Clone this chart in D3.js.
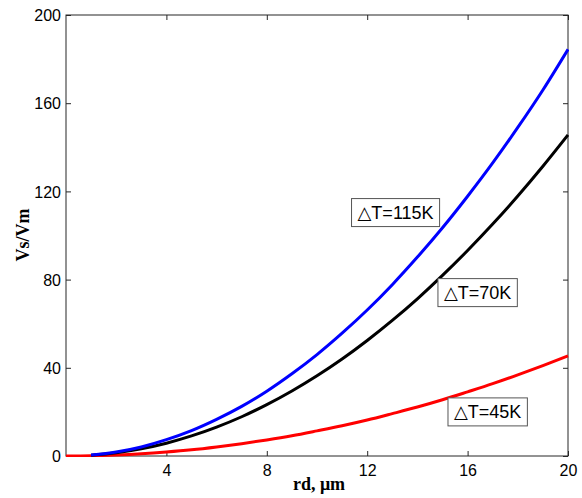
<!DOCTYPE html>
<html><head><meta charset="utf-8">
<script src="https://cdn.jsdelivr.net/npm/d3@7"></script>
<style>body{margin:0;background:#fff}svg{display:block}</style>
</head><body><svg id="c" width="582" height="498"></svg>
<script>
const xTicks = [4, 8, 12, 16, 20];
const yTicks = [0, 40, 80, 120, 160, 200];
const xsBlack = [1,2,3,4,5,6,7,8,9,10,11,12,13,14,15,16,17,18,19,20];
const blueVals = [0.46,1.8,4.1,7.4,11.5,16.6,22.5,29.4,37.3,46,55.7,66.2,77.7,90.2,103.5,117.8,132.9,149,166,184.4];
const blackVals = [0.36,1.5,3.3,5.8,9.1,13.1,17.8,23.3,29.5,36.4,44,52.4,61.5,71.3,81.9,93.2,105.2,117.9,131.4,145.6];
const xsRed = [0,1,2,3,4,5,6,7,8,9,10,11,12,13,14,15,16,17,18,19,20];
const redVals = [0,0.11,0.45,1.0,1.8,2.8,4.1,5.6,7.3,9.2,11.4,13.7,16.3,19.2,22.2,25.5,29.1,32.8,36.8,41,45.4];
const labels = [
  {text:"\u25B3T=115K", x:13.13, y:110.4},
  {text:"\u25B3T=70K", x:16.4, y:74.1},
  {text:"\u25B3T=45K", x:16.8, y:20}
];

const svg = d3.select("#c");
const L=66, R=568, T=15, B=456;
const x = d3.scaleLinear().domain([0,20]).range([L,R]);
const y = d3.scaleLinear().domain([0,200]).range([B,T]);
const axCol = "#262626";

svg.append("rect").attr("x",L).attr("y",T).attr("width",R-L).attr("height",B-T)
  .attr("fill","none").attr("stroke",axCol).attr("stroke-width",1);

const xa = svg.append("g").attr("transform",`translate(0,${B})`)
  .call(d3.axisBottom(x).tickValues(xTicks).tickSize(-5).tickPadding(9).tickFormat(d3.format("d")));
const xt = svg.append("g").attr("transform",`translate(0,${T})`)
  .call(d3.axisTop(x).tickValues(xTicks).tickSize(-5).tickFormat(""));
const ya = svg.append("g").attr("transform",`translate(${L},0)`)
  .call(d3.axisLeft(y).tickValues(yTicks).tickSize(-5).tickPadding(5).tickFormat(d3.format("d")));
const yr = svg.append("g").attr("transform",`translate(${R},0)`)
  .call(d3.axisRight(y).tickValues(yTicks).tickSize(-5).tickFormat(""));
[xa,xt,ya,yr].forEach(g=>{
  g.select(".domain").remove();
  g.selectAll("line").attr("stroke",axCol);
  g.selectAll("text").attr("fill","#000").style("font-family","Arial, 'Liberation Sans', sans-serif").style("font-size","16px");
});
ya.selectAll("text").attr("dy","0.36em");

const line = d3.line().x(d=>x(d[0])).y(d=>y(d[1])).curve(d3.curveMonotoneX);
const series = [
  {xs:xsRed, v:redVals, c:"#ff0000"},
  {xs:xsBlack, v:blackVals, c:"#000000"},
  {xs:xsBlack, v:blueVals, c:"#0000ff"}
];
svg.append("clipPath").attr("id","cp").append("rect")
  .attr("x",L).attr("y",T-2).attr("width",R-L+1).attr("height",B-T+3);
series.forEach(s=>{
  svg.append("path").attr("d", line(s.xs.map((xx,i)=>[xx,s.v[i]])))
    .attr("fill","none").attr("stroke",s.c).attr("stroke-width",3).attr("clip-path","url(#cp)");
});

labels.forEach(l=>{
  const g = svg.append("g");
  const t = g.append("text").attr("x",x(l.x)).attr("y",y(l.y)).attr("dy","0.36em")
    .attr("text-anchor","middle").attr("fill","#000")
    .style("font-family","Arial, 'Liberation Sans', 'DejaVu Sans', sans-serif").style("font-size","18px")
    .text(l.text);
  const bb = t.node().getBBox();
  g.insert("rect","text").attr("x",bb.x-6).attr("y",y(l.y)-14).attr("width",bb.width+12).attr("height",28)
    .attr("fill","#fff").attr("stroke","#555").attr("stroke-width",1);
});

svg.append("text").attr("x",(L+R)/2+2).attr("y",490).attr("text-anchor","middle")
  .style("font-family","'Times New Roman', 'Liberation Serif', serif").style("font-weight","bold").style("font-size","18px")
  .text("rd, \u03BCm");
svg.append("text").attr("transform","translate(29,235) rotate(-90)").attr("text-anchor","middle")
  .style("font-family","'Times New Roman', 'Liberation Serif', serif").style("font-weight","bold").style("font-size","18px")
  .text("Vs/Vm");
</script></body></html>
